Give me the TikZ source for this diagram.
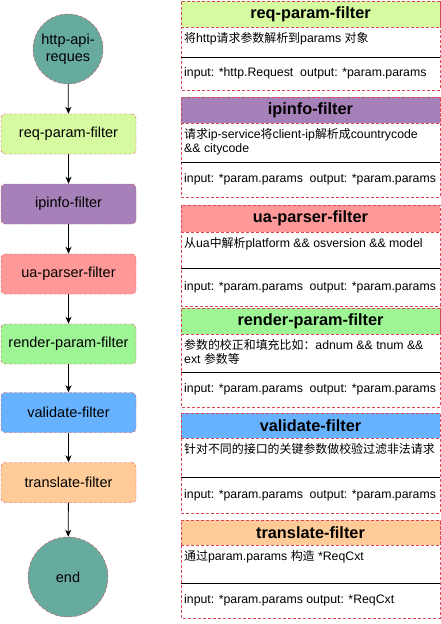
\documentclass[tikz,border=0pt]{standalone}
\usepackage{fontspec}
\setmainfont{Liberation Sans}
\newfontfamily\cjk[Scale=0.97]{Noto Sans CJK SC}
\usepackage{tikz}
\usetikzlibrary{positioning, calc, fit, arrows.meta}

\definecolor{reqgreen}{RGB}{214,250,160}
\definecolor{ippurple}{RGB}{166,128,184}
\definecolor{uapink}{RGB}{255,153,153}
\definecolor{rendergreen}{RGB}{158,245,150}
\definecolor{valblue}{RGB}{102,178,255}
\definecolor{transpeach}{RGB}{255,204,153}
\definecolor{endteal}{RGB}{103,171,159}
\definecolor{dashred}{RGB}{222,70,85}

\newcommand{\zh}[1]{{\cjk #1}}

% one panel on the right: name, top, header bottom, divider, bottom, fill, title, body, io
\newcommand{\filterpanel}[9]{%
  \draw[paneledge] (181,#2) rectangle (440,#5);
  \node[panelhead, fill=#6, minimum height={#3-#2}] (#1-head) at (310.5,{(#2+#3)/2}) {#7};
  \draw[divider] (181,#4) -- (440,#4);
  \node[paneltext, anchor=north west] (#1-body) at (184,{#3+5}) {#8};
  \node[paneltext, anchor=west] (#1-io) at (184,{(#4+#5)/2}) {#9};
}

\tikzset{
  fine dash/.style={dash pattern=on 3pt off 2pt},
  endpoint/.style={circle, draw=dashred, fine dash, fill=endteal, align=center,
    font=\fontsize{14.5}{17}\selectfont, inner sep=0pt},
  filterbox/.style={rectangle, rounded corners=4pt, draw=dashred, fine dash,
    minimum width=135, minimum height=40, font=\fontsize{14.5}{17}\selectfont},
  flow/.style={-{Stealth[length=7pt, width=6pt, inset=2pt]}, black, line width=0.8pt},
  paneledge/.style={draw=dashred, fine dash, line width=0.6pt},
  panelhead/.style={rectangle, draw=dashred, fine dash, line width=0.6pt, minimum width=259,
    font=\fontsize{16.3}{18}\bfseries\selectfont, inner sep=0pt},
  divider/.style={black, line width=0.8pt},
  paneltext/.style={align=left, inner sep=0pt, font=\fontsize{12.3}{14.5}\selectfont}
}

\begin{document}
\begin{tikzpicture}[x=1pt, y=-1pt]
\useasboundingbox (0,0) rectangle (441,624);

% pipeline
\node[endpoint, minimum size=70] (start) at (68,49) {http-api-\\reques};
\node[filterbox, fill=reqgreen] (req) at (68.5,134) {req-param-filter};
\node[filterbox, fill=ippurple] (ipinfo) at (68.5,204) {ipinfo-filter};
\node[filterbox, fill=uapink] (ua) at (68.5,274) {ua-parser-filter};
\node[filterbox, fill=rendergreen] (render) at (68.5,344) {render-param-filter};
\node[filterbox, fill=valblue] (validate) at (68.5,412.5) {validate-filter};
\node[filterbox, fill=transpeach] (translate) at (68.5,482.5) {translate-filter};
\node[endpoint, minimum size=80] (end) at (68,577) {end};

\draw[flow] (start) -- (req);
\draw[flow] (req) -- (ipinfo);
\draw[flow] (ipinfo) -- (ua);
\draw[flow] (ua) -- (render);
\draw[flow] (render) -- (validate);
\draw[flow] (validate) -- (translate);
\draw[flow] (translate) -- (end);

% descriptions
\filterpanel{p1}{1}{27}{57}{90}{reqgreen}{req-param-filter}
  {\zh{将}http\zh{请求参数解析到}params \zh{对象}}
  {input: *http.Request\ \ output: *param.params}
\filterpanel{p2}{97}{123}{162}{197}{ippurple}{ipinfo-filter}
  {\zh{请求}ip-service\zh{将}client-ip\zh{解析成}countrycode\\\&\& citycode}
  {input: *param.params\ \ output: *param.params}
\filterpanel{p3}{205}{232}{268}{306}{uapink}{ua-parser-filter}
  {\zh{从}ua\zh{中解析}platform \&\& osversion \&\& model}
  {input: *param.params\ \ output: *param.params}
\filterpanel{p4}{308}{334}{372}{407}{rendergreen}{render-param-filter}
  {\zh{参数的校正和填充比如：}adnum \&\& tnum \&\&\\ext \zh{参数等}}
  {input: *param.params\ \ output: *param.params}
\filterpanel{p5}{413}{438}{477}{513}{valblue}{validate-filter}
  {\zh{针对不同的接口的关键参数做校验过滤非法请求}}
  {input: *param.params\ \ output: *param.params}
\filterpanel{p6}{520}{545}{583}{618}{transpeach}{translate-filter}
  {\zh{通过}param.params \zh{构造} *ReqCxt}
  {input: *param.params output: *ReqCxt}
\end{tikzpicture}
\end{document}
